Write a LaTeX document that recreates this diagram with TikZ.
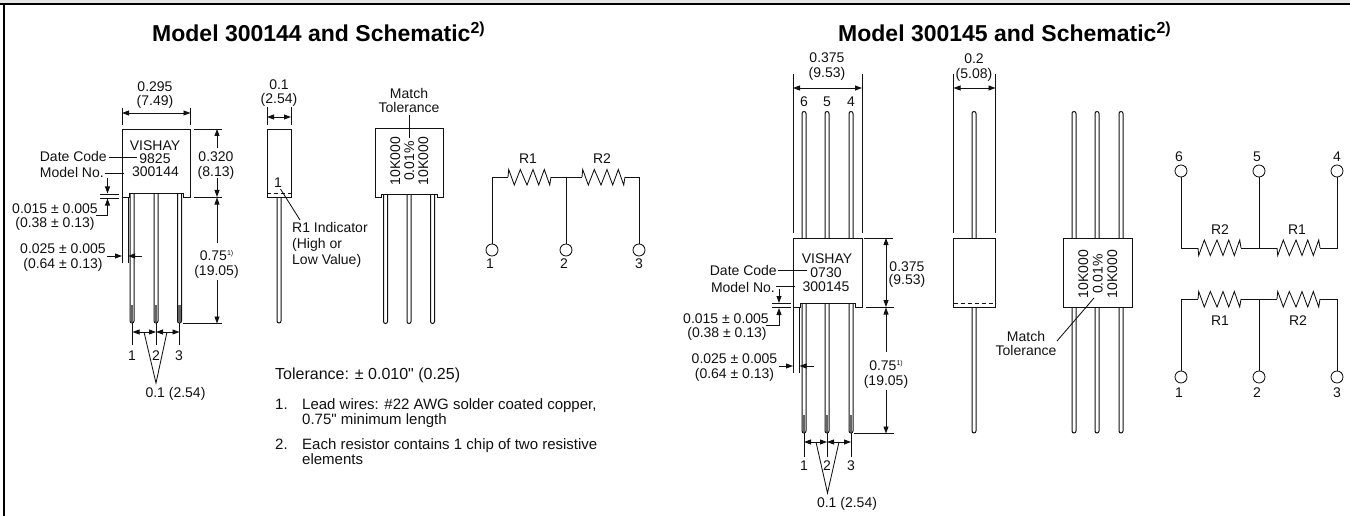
\documentclass[tikz,border=0pt]{standalone}
\usepackage{fontspec}
\setmainfont{Liberation Sans}
\newfontfamily\straightf{Liberation Sans}
\usetikzlibrary{arrows.meta}
\definecolor{ink}{HTML}{111111}
\tikzset{
  x=1pt,y=-1pt,
  wire/.style={line width=0.85pt,draw=ink},
  dim/.style={line width=0.85pt,draw=ink,{Triangle[length=7pt,width=5pt]}-{Triangle[length=7pt,width=5pt]}},
  dimend/.style={line width=0.85pt,draw=ink,-{Triangle[length=7pt,width=5pt]}},
  lbl/.style={inner sep=0pt,text height=10pt,text depth=0pt,text=ink,font=\fontsize{14}{14}\selectfont},
  smalltext/.style={lbl,align=left,anchor=west},
  notetext/.style={smalltext,font=\fontsize{15}{15}\selectfont},
  toltext/.style={smalltext,font=\fontsize{16}{16}\selectfont},
  titlelbl/.style={inner sep=0pt,text=black,anchor=base west,font=\fontsize{23}{25}\selectfont\bfseries},
  rot/.style={lbl,rotate=90},
  pin/.style={circle,draw=ink,line width=0.85pt,fill=white,minimum size=12pt,inner sep=0pt},
  leadline/.style={line width=1pt,draw=ink,fill=white},
  bodyline/.style={line width=0.9pt,draw=ink,fill=white},
}
\newcommand{\leadbot}[3]{% x, ytop, ybot
  \draw[leadline] (#1-2,#2) -- (#1-2,#3-2.5) arc[start angle=180,end angle=0,radius=2] -- (#1+2,#2);}
\newcommand{\leadtwo}[3]{% rounded at both ends
  \draw[leadline] (#1-2,#2+2.5) arc[start angle=180,end angle=360,radius=2] -- (#1+2,#3-2.5) arc[start angle=0,end angle=180,radius=2] -- cycle;}
\newcommand{\tipshade}[3]{\fill[ink!65] (#1-1.3,#2) rectangle (#1+1.3,#3);}
\newcommand{\notched}[6]{% xl, xr, ytop, ybot, ynotch, inset
  \draw[bodyline] (#1,#3) -- (#2,#3) -- (#2,#4) -- (#2-#6,#4) -- (#2-#6,#5) -- (#1+#6,#5) -- (#1+#6,#4) -- (#1,#4) -- cycle;}
\newcommand{\resistor}[3]{% x0, y, s
  \draw[wire,line join=miter] (#1,#2) -- (#1+0.7,#2-7.5*#3) -- (#1+6.3,#2+8*#3) -- (#1+12.3,#2-7.5*#3) -- (#1+19,#2+8*#3) -- (#1+25,#2-7.5*#3) -- (#1+30.7,#2+8*#3) -- (#1+36.3,#2-7.5*#3) -- (#1+41.7,#2+8*#3) -- (#1+43,#2);}
\newcommand{\seventyfive}{0.75\raisebox{5pt}{\fontsize{7}{7}\selectfont 1)}}
\begin{document}
\begin{tikzpicture}
\useasboundingbox (0,0) rectangle (1350,516);
% frame
\fill[black!10] (0,0) rectangle (1350,3);
\fill[black] (0,3) rectangle (1350,5);
\fill[black] (3,3) rectangle (5,516);

% titles
\node[titlelbl] (title1) at (152,41.5) {Model 300144 and Schematic\raisebox{7.5pt}{\fontsize{16}{16}\selectfont 2)}};
\node[titlelbl] (title2) at (838,41.5) {Model 300145 and Schematic\raisebox{7.5pt}{\fontsize{16}{16}\selectfont 2)}};

%%%%%%%%%% MODEL 300144 front
\foreach \px in {132,156,179.5}{\leadbot{\px}{193}{323.5}\tipshade{\px}{305}{322}}
\notched{122}{190.5}{129}{197}{193}{7}
\node[lbl] (v1) at (155,145) {VISHAY};
\node[lbl] (dc1) at (155,159) {9825};
\node[lbl] (mn1) at (155.5,172) {300144};
\node[lbl,anchor=east] (dcl1) at (107,157) {Date Code};
\node[lbl,anchor=east] (mnl1) at (104,173) {Model No.};
\draw[wire] (109,157.5) -- (137,157.5);
\draw[wire] (104.5,173) -- (124,173);
% 0.295
\draw[wire] (122,108) -- (122,125) (190.5,108) -- (190.5,125);
\draw[dim] (122,113) -- (190.5,113);
\node[lbl] (w1a) at (155,87) {0.295};
\node[lbl] (w1b) at (155,101) {(7.49)};
% 0.320
\draw[wire] (194,129) -- (222,129) (194,197) -- (222,197);
\draw[dimend] (217,148) -- (217,129);
\draw[dimend] (217,178) -- (217,197);
\node[lbl] (h1a) at (216,157) {0.320};
\node[lbl] (h1b) at (216,171) {(8.13)};
% 0.75
\draw[dimend] (217,243) -- (217,197.5);
\draw[dimend] (217,280) -- (217,323.5);
\draw[wire] (183,323.5) -- (222,323.5);
\node[lbl] (l1a) at (216.5,255) {\seventyfive};
\node[lbl] (l1b) at (216.5,270) {(19.05)};
% 0.015
\draw[wire] (100,194) -- (119,194) (100,198) -- (119,198);
\draw[dimend] (107.5,178) -- (107.5,193.5);
\draw[dimend] (96,215) -- (107.5,215) -- (107.5,198.5);
\node[lbl] (a1) at (55,208) {0.015 ± 0.005};
\node[lbl] (a2) at (55,222) {(0.38 ± 0.13)};
% 0.025
\draw[wire] (122,197) -- (122,263) (128,197) -- (128,263);
\draw[dimend] (107,256) -- (122,256);
\draw[dimend] (142,256) -- (128,256);
\node[lbl] (b1) at (63,248) {0.025 ± 0.005};
\node[lbl] (b2) at (63,263) {(0.64 ± 0.13)};
% pitch
\draw[wire] (132.5,323) -- (132.5,345) (156,323) -- (156,345) (179.5,323) -- (179.5,345);
\draw[dim] (132.5,332) -- (156,332);
\draw[dim] (156,332) -- (179.5,332);
\draw[wire,line join=miter] (144,332) -- (156,383) -- (167,332);
\node[lbl] (n11) at (132,355) {1};
\node[lbl] (n12) at (156,355) {2};
\node[lbl] (n13) at (179,355) {3};
\node[lbl] (p1) at (175.5,392) {0.1 (2.54)};

%%%%%%%%%% MODEL 300144 side
\leadbot{279}{197}{323.5}
\draw[bodyline] (267,129) rectangle (291,197);
\draw[wire,dash pattern=on 4pt off 3pt] (267,193) -- (291,193);
\node[lbl] (o1) at (278,182) {1};
\draw[wire] (280.5,189) -- (300,220);
\node[smalltext] (r1a) at (292,227) {R1 Indicator};
\node[smalltext] (r1b) at (292,243) {(High or};
\node[smalltext] (r1c) at (292,259) {Low Value)};
\draw[wire] (267,107) -- (267,125) (291,107) -- (291,125);
\draw[dim] (267,117) -- (291,117);
\node[lbl] (s1a) at (279,85) {0.1};
\node[lbl] (s1b) at (279,99) {(2.54)};

%%%%%%%%%% MODEL 300144 back
\foreach \px in {385.5,409,432.5}{\leadbot{\px}{193}{324}}
\notched{375}{443.5}{128.5}{197}{194}{6}
\node[lbl] (m1a) at (409,94) {Match};
\node[lbl] (m1b) at (409,108) {Tolerance};
\draw[wire] (409,115) -- (409,138);
\node[rot] (t1a) at (395,161) {10K000};
\node[rot] (t1b) at (409,161) {0.01\%};
\node[rot] (t1c) at (423,161) {10K000};

%%%%%%%%%% schematic 1
\node[pin] (c1) at (492,250) {};
\node[pin] (c2) at (566,250) {};
\node[pin] (c3) at (639,250) {};
\draw[wire] (c1) -- (492,177) -- (508,177);
\draw[wire] (551,177) -- (582,177);
\draw[wire] (625,177) -- (639,177) -- (c3);
\draw[wire] (566,177) -- (c2);
\resistor{508}{177}{1}
\resistor{582}{177}{1}
\node[lbl] (R11) at (528,159) {R1};
\node[lbl] (R12) at (602,159) {R2};
\node[lbl] (q1) at (490,263) {1};
\node[lbl] (q2) at (564,263) {2};
\node[lbl] (q3) at (639,263) {3};

%%%%%%%%%% notes
\node[toltext] (tol) at (275,374) {Tolerance: ± 0.010{\straightf "} (0.25)};
\node[notetext] (nn1) at (275,404) {1.};
\node[notetext] (nl1) at (302,404) {Lead wires: \#22 AWG solder coated copper,};
\node[notetext] (nl2) at (302,419) {0.75{\straightf "} minimum length};
\node[notetext] (nn2) at (275,444) {2.};
\node[notetext] (nl3) at (302,444) {Each resistor contains 1 chip of two resistive};
\node[notetext] (nl4) at (302,459) {elements};

%%%%%%%%%% MODEL 300145 front
\foreach \px in {804,827,851}{\leadtwo{\px}{111}{433.5}\tipshade{\px}{415}{432}}
\notched{793}{862}{238}{307}{303}{7}
\node[lbl] (v2) at (827,258) {VISHAY};
\node[lbl] (dc2) at (826,272) {0730};
\node[lbl] (mn2) at (826,286) {300145};
\node[lbl,anchor=east] (dcl2) at (777,270) {Date Code};
\node[lbl,anchor=east] (mnl2) at (775,287) {Model No.};
\draw[wire] (778,270.5) -- (807,270.5);
\draw[wire] (775.5,286) -- (795,286);
% 0.375 top
\draw[wire] (793,74) -- (793,233) (862,74) -- (862,233);
\draw[dim] (793,88) -- (862,88);
\node[lbl] (w2a) at (827,58) {0.375};
\node[lbl] (w2b) at (827,73) {(9.53)};
\node[lbl] (g6) at (804,102) {6};
\node[lbl] (g5) at (827,102) {5};
\node[lbl] (g4) at (851,102) {4};
% 0.375 right
\draw[wire] (864,238) -- (893,238) (866,307) -- (894,307);
\draw[dim] (886,238) -- (886,307);
\node[lbl] (h2a) at (907,266) {0.375};
\node[lbl] (h2b) at (907,279) {(9.53)};
% 0.75
\draw[dimend] (886,352) -- (886,307.5);
\draw[dimend] (886,390) -- (886,433.5);
\draw[wire] (854,433.5) -- (894,433.5);
\node[lbl] (l2a) at (886,365) {\seventyfive};
\node[lbl] (l2b) at (886,380) {(19.05)};
% 0.015
\draw[wire] (772,303.5) -- (791,303.5) (772,307.5) -- (791,307.5);
\draw[dimend] (779,289) -- (779,303);
\draw[dimend] (766,325) -- (779,325) -- (779,308);
\node[lbl] (a3) at (726,318) {0.015 ± 0.005};
\node[lbl] (a4) at (727,332) {(0.38 ± 0.13)};
% 0.025
\draw[wire] (793,308) -- (793,373) (799,308) -- (799,373);
\draw[dimend] (779,366) -- (793,366);
\draw[dimend] (814,366) -- (799.5,366);
\node[lbl] (b3) at (734.5,358) {0.025 ± 0.005};
\node[lbl] (b4) at (734.5,373) {(0.64 ± 0.13)};
% pitch
\draw[wire] (804,433) -- (804,457) (827,433) -- (827,457) (851,433) -- (851,457);
\draw[dim] (804,442) -- (827,442);
\draw[dim] (827,442) -- (851,442);
\draw[wire,line join=miter] (816,442) -- (827.5,493) -- (839,442);
\node[lbl] (n21) at (804,465) {1};
\node[lbl] (n22) at (827,465) {2};
\node[lbl] (n23) at (851,465) {3};
\node[lbl] (p2) at (847,502) {0.1 (2.54)};

%%%%%%%%%% MODEL 300145 side
\leadtwo{974}{111}{433.5}
\draw[bodyline] (953.5,238) rectangle (995.5,307);
\draw[wire,dash pattern=on 4pt off 3pt] (953.5,303) -- (995.5,303);
\draw[wire] (953.5,74) -- (953.5,233) (995.5,74) -- (995.5,233);
\draw[dim] (953.5,88) -- (995.5,88);
\node[lbl] (s2a) at (974,59) {0.2};
\node[lbl] (s2b) at (974,74) {(5.08)};

%%%%%%%%%% MODEL 300145 back
\foreach \px in {1074,1097,1121}{\leadtwo{\px}{111}{433.5}}
\draw[bodyline] (1063.5,238) rectangle (1132,307);
\node[rot] (t2a) at (1083,274) {10K000};
\node[rot] (t2b) at (1097.5,274) {0.01\%};
\node[rot] (t2c) at (1112,274) {10K000};
\draw[wire] (1094,298) -- (1057,341);
\node[lbl] (m2a) at (1026,336) {Match};
\node[lbl] (m2b) at (1026,350) {Tolerance};

%%%%%%%%%% schematic 2 top
\node[pin] (d6) at (1181,171) {};
\node[pin] (d5) at (1259,171) {};
\node[pin] (d4) at (1337,171) {};
\draw[wire] (d6) -- (1181,248) -- (1198,248);
\draw[wire] (1241,248) -- (1277,248);
\draw[wire] (1320,248) -- (1337,248) -- (d4);
\draw[wire] (d5) -- (1259,248);
\resistor{1198}{248}{-1}
\resistor{1277}{248}{-1}
\node[lbl] (R22) at (1220,229) {R2};
\node[lbl] (R21) at (1297,229) {R1};
\node[lbl] (e6) at (1179,156) {6};
\node[lbl] (e5) at (1257,156) {5};
\node[lbl] (e4) at (1337,156) {4};

%%%%%%%%%% schematic 2 bottom
\node[pin] (f1) at (1181,377) {};
\node[pin] (f2) at (1259,377) {};
\node[pin] (f3) at (1337,377) {};
\draw[wire] (f1) -- (1181,299) -- (1198,299);
\draw[wire] (1241,299) -- (1277,299);
\draw[wire] (1320,299) -- (1337,299) -- (f3);
\draw[wire] (f2) -- (1259,299);
\resistor{1198}{299}{1}
\resistor{1277}{299}{1}
\node[lbl] (R31) at (1220,320) {R1};
\node[lbl] (R32) at (1298,320) {R2};
\node[lbl] (h1) at (1179,392) {1};
\node[lbl] (h2) at (1257,392) {2};
\node[lbl] (h3) at (1337,392) {3};
\end{tikzpicture}
\end{document}
